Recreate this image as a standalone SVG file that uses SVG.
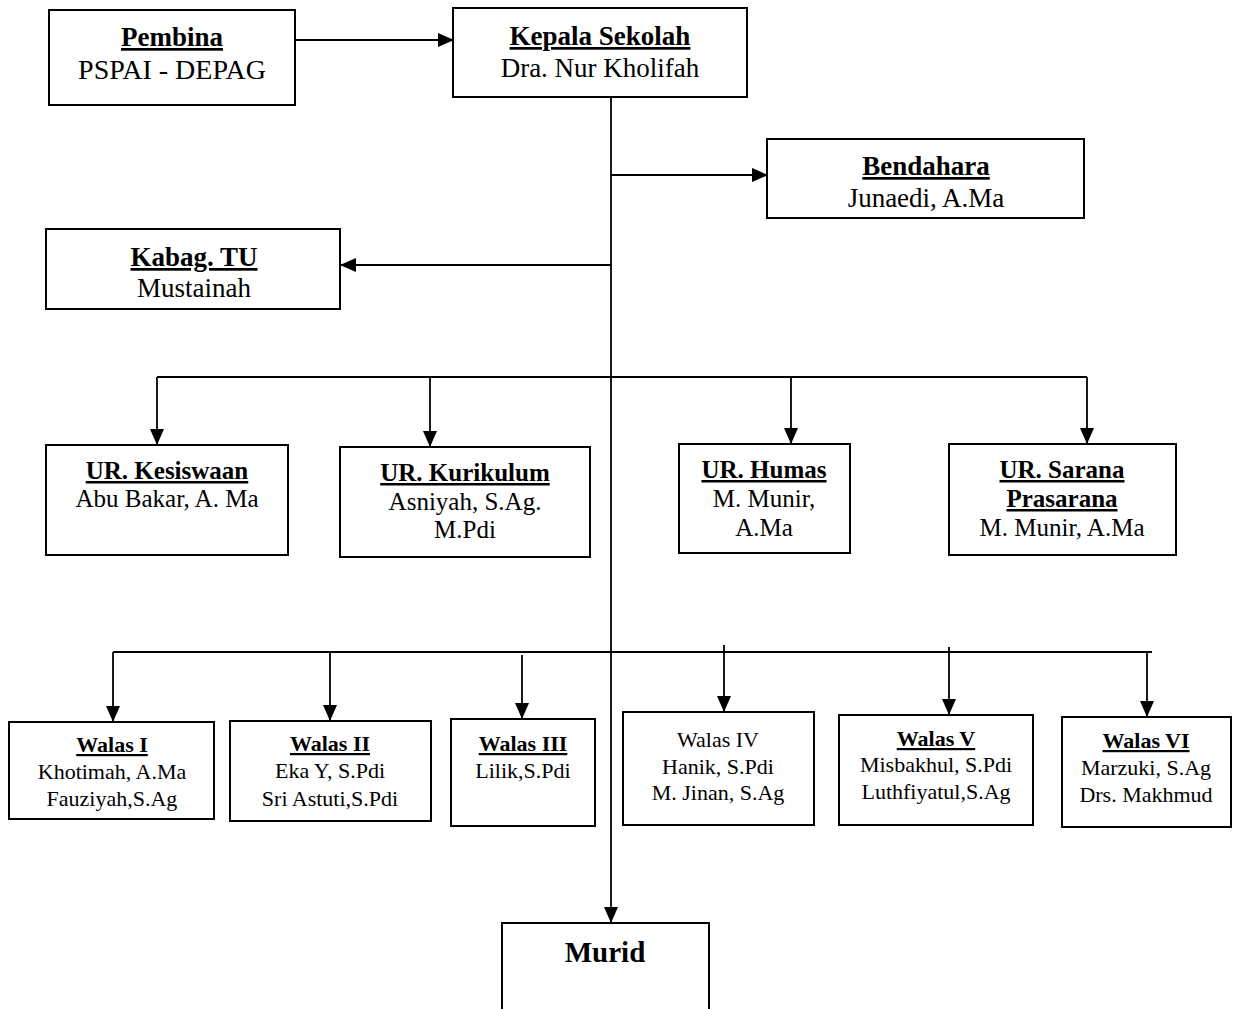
<svg xmlns="http://www.w3.org/2000/svg" width="1247" height="1009" viewBox="0 0 1247 1009">
<defs>
<marker id="arr" markerUnits="userSpaceOnUse" markerWidth="16" markerHeight="14" refX="15" refY="7" orient="auto">
<path d="M0,0 L16,7 L0,14 Z" fill="#000"/>
</marker>
<style>
.box{fill:#fff;stroke:#000;stroke-width:2}
.ln{fill:none;stroke:#000;stroke-width:1.8}
text{font-family:"Liberation Serif","Times New Roman",serif;fill:#000;text-anchor:middle}
.t1{font-size:27px}
.t2{font-size:25px}
.t3{font-size:22px}
.b{font-weight:bold;text-decoration:underline}
</style>
</defs>
<rect width="1247" height="1009" fill="#fff"/>
<g id="connectors">
<line class="ln" x1="295" y1="40" x2="453" y2="40" marker-end="url(#arr)"/>
<line class="ln" x1="611" y1="97" x2="611" y2="922" marker-end="url(#arr)"/>
<line class="ln" x1="611" y1="175" x2="767" y2="175" marker-end="url(#arr)"/>
<line class="ln" x1="611" y1="265" x2="341" y2="265" marker-end="url(#arr)"/>
<line class="ln" x1="157" y1="377" x2="1087" y2="377"/>
<line class="ln" x1="157" y1="377" x2="157" y2="444" marker-end="url(#arr)"/>
<line class="ln" x1="430" y1="377" x2="430" y2="446" marker-end="url(#arr)"/>
<line class="ln" x1="791" y1="377" x2="791" y2="443" marker-end="url(#arr)"/>
<line class="ln" x1="1087" y1="377" x2="1087" y2="443" marker-end="url(#arr)"/>
<line class="ln" x1="113" y1="652" x2="1152" y2="652"/>
<line class="ln" x1="113" y1="652" x2="113" y2="721" marker-end="url(#arr)"/>
<line class="ln" x1="330" y1="652" x2="330" y2="720" marker-end="url(#arr)"/>
<line class="ln" x1="522" y1="655" x2="522" y2="718" marker-end="url(#arr)"/>
<line class="ln" x1="724" y1="645" x2="724" y2="711" marker-end="url(#arr)"/>
<line class="ln" x1="949" y1="647" x2="949" y2="714" marker-end="url(#arr)"/>
<line class="ln" x1="1147" y1="652" x2="1147" y2="716" marker-end="url(#arr)"/>
</g>
<g id="pembina">
<rect class="box" x="49" y="10" width="246" height="95"/>
<text class="t1 b" x="172" y="46">Pembina</text>
<text class="t1" x="172" y="79" style="font-size:28px">PSPAI - DEPAG</text>
</g>
<g id="kepala">
<rect class="box" x="453" y="8" width="294" height="89"/>
<text class="t1 b" x="600" y="45">Kepala Sekolah</text>
<text class="t1" x="600" y="77">Dra. Nur Kholifah</text>
</g>
<g id="bendahara">
<rect class="box" x="767" y="139" width="317" height="79"/>
<text class="t1 b" x="926" y="175">Bendahara</text>
<text class="t1" x="926" y="207">Junaedi, A.Ma</text>
</g>
<g id="kabag">
<rect class="box" x="46" y="229" width="294" height="80"/>
<text class="t1 b" x="194" y="266">Kabag. TU</text>
<text class="t1" x="194" y="297">Mustainah</text>
</g>
<g id="kesiswaan">
<rect class="box" x="46" y="445" width="242" height="110"/>
<text class="t2 b" x="167" y="479">UR. Kesiswaan</text>
<text class="t2" x="167" y="507">Abu Bakar, A. Ma</text>
</g>
<g id="kurikulum">
<rect class="box" x="340" y="447" width="250" height="110"/>
<text class="t2 b" x="465" y="481">UR. Kurikulum</text>
<text class="t2" x="465" y="510">Asniyah, S.Ag.</text>
<text class="t2" x="465" y="538">M.Pdi</text>
</g>
<g id="humas">
<rect class="box" x="679" y="444" width="171" height="109"/>
<text class="t2 b" x="764" y="478">UR. Humas</text>
<text class="t2" x="764" y="507">M. Munir,</text>
<text class="t2" x="764" y="536">A.Ma</text>
</g>
<g id="sarana">
<rect class="box" x="949" y="444" width="227" height="111"/>
<text class="t2 b" x="1062" y="478">UR. Sarana</text>
<text class="t2 b" x="1062" y="507">Prasarana</text>
<text class="t2" x="1062" y="536">M. Munir, A.Ma</text>
</g>
<g id="walas1">
<rect class="box" x="9" y="722" width="205" height="97"/>
<text class="t3 b" x="112" y="752">Walas I</text>
<text class="t3" x="112" y="779">Khotimah, A.Ma</text>
<text class="t3" x="112" y="806">Fauziyah,S.Ag</text>
</g>
<g id="walas2">
<rect class="box" x="230" y="721" width="201" height="100"/>
<text class="t3 b" x="330" y="751">Walas II</text>
<text class="t3" x="330" y="778">Eka Y, S.Pdi</text>
<text class="t3" x="330" y="806">Sri Astuti,S.Pdi</text>
</g>
<g id="walas3">
<rect class="box" x="451" y="719" width="144" height="107"/>
<text class="t3 b" x="523" y="751">Walas III</text>
<text class="t3" x="523" y="778">Lilik,S.Pdi</text>
</g>
<g id="walas4">
<rect class="box" x="623" y="712" width="191" height="113"/>
<text class="t3" x="718" y="747">Walas IV</text>
<text class="t3" x="718" y="774">Hanik, S.Pdi</text>
<text class="t3" x="718" y="800">M. Jinan, S.Ag</text>
</g>
<g id="walas5">
<rect class="box" x="839" y="715" width="194" height="110"/>
<text class="t3 b" x="936" y="746">Walas V</text>
<text class="t3" x="936" y="772">Misbakhul, S.Pdi</text>
<text class="t3" x="936" y="799">Luthfiyatul,S.Ag</text>
</g>
<g id="walas6">
<rect class="box" x="1062" y="717" width="169" height="110"/>
<text class="t3 b" x="1146" y="748">Walas VI</text>
<text class="t3" x="1146" y="775">Marzuki, S.Ag</text>
<text class="t3" x="1146" y="802">Drs. Makhmud</text>
</g>
<g id="murid">
<rect class="box" x="502" y="923" width="207" height="95"/>
<text x="605" y="962" style="font-size:29px;font-weight:bold">Murid</text>
</g>
</svg>
